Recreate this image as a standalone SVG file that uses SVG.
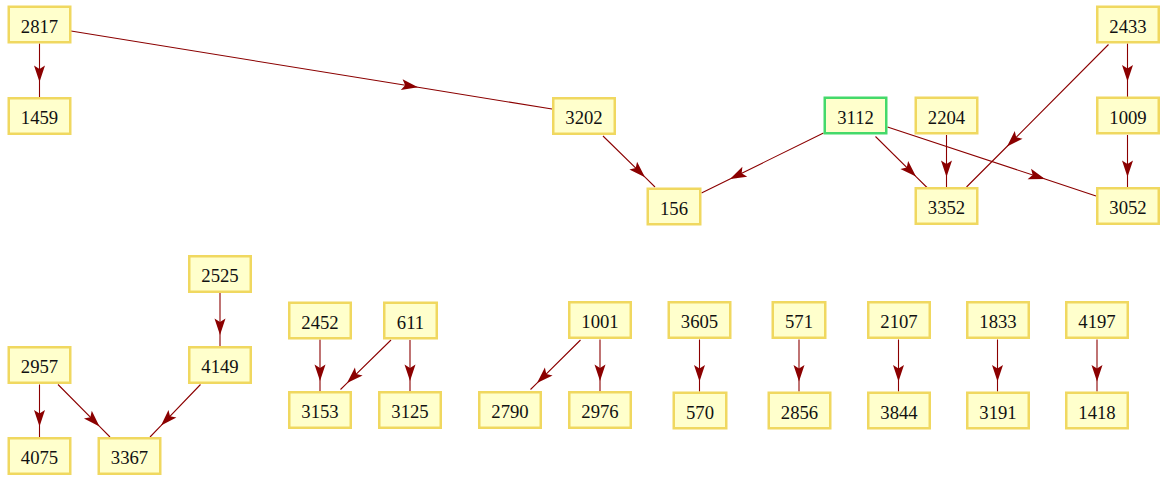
<svg xmlns="http://www.w3.org/2000/svg" width="1162" height="479" viewBox="0 0 1162 479">
  <style>
    .node rect { fill: #ffffcc; stroke: #f0d860; stroke-width: 2.5; }
    .node.sel rect { stroke: #44d96a; }
    .node text { font-family: "Liberation Serif", "Times New Roman", serif; font-size: 18.7px; fill: #111; text-anchor: middle; }
    .edges path { fill: none; stroke: #8b0000; stroke-width: 1.1; marker-mid: url(#arrow); }
  </style>
  <defs>
    <marker id="arrow" markerUnits="userSpaceOnUse" viewBox="-18 -7 19 14" markerWidth="19" markerHeight="14" refX="0" refY="0" orient="auto">
      <path d="M-16.5,-5.5 L0,0 L-16.5,5.5 L-13,0 Z" fill="#8b0000"/>
    </marker>
  </defs>

  <!-- connectors: start, arrow tip, end -->
  <g id="edges" class="edges">
    <path id="e2817-1459" d="M39.5,43.5 L39.5,82 L39.5,97"/>
    <path id="e2817-3202" d="M71,31 L418,87.3 L552,109"/>
    <path id="e3202-156" d="M603,136 L645,177.2 L655,187"/>
    <path id="e3112-156" d="M823.5,133 L730,179 L701.5,193"/>
    <path id="e3112-3352" d="M875.5,136.5 L916,176.6 L927,187.5"/>
    <path id="e3112-3052" d="M887.5,127 L1045,179.1 L1096,196"/>
    <path id="e2204-3352" d="M946.5,135 L946.5,177 L946.5,187"/>
    <path id="e2433-3352" d="M1108.5,44.5 L1007,146.5 L966.5,187"/>
    <path id="e2433-1009" d="M1127.5,43.5 L1127.5,81.5 L1127.5,97"/>
    <path id="e1009-3052" d="M1127.5,135 L1127.5,177 L1127.5,187"/>
    <path id="e2525-4149" d="M220,293 L220,335 L220,346"/>
    <path id="e2957-4075" d="M39.5,384.5 L39.5,426.5 L39.5,437"/>
    <path id="e2957-3367" d="M58,384.5 L99.5,426.4 L110,437"/>
    <path id="e4149-3367" d="M200.5,384.5 L161,425.6 L150,437"/>
    <path id="e2452-3153" d="M320,339.5 L320,381 L320,391"/>
    <path id="e611-3153" d="M391,340 L347,383.1 L340.5,389.5"/>
    <path id="e611-3125" d="M410,340 L410,381 L410,391"/>
    <path id="e1001-2790" d="M580.5,340 L537,383.1 L530.5,389.5"/>
    <path id="e1001-2976" d="M600,339.5 L600,381 L600,391.5"/>
    <path id="e3605-570" d="M699.5,339.5 L699.5,381.5 L699.5,391.5"/>
    <path id="e571-2856" d="M799,339.5 L799,381.5 L799,391.5"/>
    <path id="e2107-3844" d="M898.5,339.5 L898.5,381.5 L898.5,391.5"/>
    <path id="e1833-3191" d="M997.5,339.5 L997.5,381.5 L997.5,391.5"/>
    <path id="e4197-1418" d="M1097,339.5 L1097,381.5 L1097,391.5"/>
  </g>

  <!-- upper graph -->
  <g id="n2817" class="node"><rect x="8.75" y="6.75" width="61.5" height="35.5"/><text x="39.5" y="32.5">2817</text></g>
  <g id="n1459" class="node"><rect x="8.75" y="98.25" width="61.5" height="35.5"/><text x="39.5" y="124">1459</text></g>
  <g id="n3202" class="node"><rect x="553.25" y="98.25" width="61.5" height="35.5"/><text x="584" y="124">3202</text></g>
  <g id="n156" class="node"><rect x="647.75" y="188.75" width="52.5" height="35.5"/><text x="674" y="214.5">156</text></g>
  <g id="n3112" class="node sel"><rect x="824.75" y="97.75" width="61.5" height="35.5"/><text x="855.5" y="123.5">3112</text></g>
  <g id="n2204" class="node"><rect x="915.75" y="97.75" width="61.5" height="35.5"/><text x="946.5" y="123.5">2204</text></g>
  <g id="n3352" class="node"><rect x="915.75" y="188.25" width="61.5" height="35.5"/><text x="946.5" y="214">3352</text></g>
  <g id="n2433" class="node"><rect x="1097.25" y="6.75" width="61.5" height="35.5"/><text x="1128" y="32.5">2433</text></g>
  <g id="n1009" class="node"><rect x="1097.25" y="97.75" width="61.5" height="35.5"/><text x="1128" y="123.5">1009</text></g>
  <g id="n3052" class="node"><rect x="1097.25" y="188.25" width="61.5" height="35.5"/><text x="1128" y="214">3052</text></g>

  <!-- lower left -->
  <g id="n2525" class="node"><rect x="189.25" y="256.25" width="61.5" height="35.5"/><text x="220" y="282">2525</text></g>
  <g id="n2957" class="node"><rect x="8.75" y="347.25" width="61.5" height="35.5"/><text x="39.5" y="373">2957</text></g>
  <g id="n4149" class="node"><rect x="189.25" y="347.25" width="61.5" height="35.5"/><text x="220" y="373">4149</text></g>
  <g id="n4075" class="node"><rect x="8.75" y="438.25" width="61.5" height="35.5"/><text x="39.5" y="464">4075</text></g>
  <g id="n3367" class="node"><rect x="98.75" y="438.25" width="61.5" height="35.5"/><text x="129.5" y="464">3367</text></g>

  <!-- lower row -->
  <g id="n2452" class="node"><rect x="289.25" y="302.75" width="61.5" height="35.5"/><text x="320" y="328.5">2452</text></g>
  <g id="n611" class="node"><rect x="384.25" y="302.75" width="52.5" height="35.5"/><text x="410.5" y="328.5">611</text></g>
  <g id="n3153" class="node"><rect x="289.25" y="392.25" width="61.5" height="35.5"/><text x="320" y="418">3153</text></g>
  <g id="n3125" class="node"><rect x="379.25" y="392.25" width="61.5" height="35.5"/><text x="410" y="418">3125</text></g>
  <g id="n1001" class="node"><rect x="569.25" y="302.25" width="61.5" height="35.5"/><text x="600" y="328">1001</text></g>
  <g id="n2790" class="node"><rect x="479.25" y="392.25" width="61.5" height="35.5"/><text x="510" y="418">2790</text></g>
  <g id="n2976" class="node"><rect x="569.25" y="392.25" width="61.5" height="35.5"/><text x="600" y="418">2976</text></g>
  <g id="n3605" class="node"><rect x="668.75" y="302.25" width="61.5" height="35.5"/><text x="699.5" y="328">3605</text></g>
  <g id="n570" class="node"><rect x="673.75" y="392.75" width="52.5" height="35.5"/><text x="700" y="418.5">570</text></g>
  <g id="n571" class="node"><rect x="772.75" y="302.25" width="52.5" height="35.5"/><text x="799" y="328">571</text></g>
  <g id="n2856" class="node"><rect x="768.75" y="392.75" width="61.5" height="35.5"/><text x="799.5" y="418.5">2856</text></g>
  <g id="n2107" class="node"><rect x="868.25" y="302.25" width="61.5" height="35.5"/><text x="899" y="328">2107</text></g>
  <g id="n3844" class="node"><rect x="868.25" y="392.75" width="61.5" height="35.5"/><text x="899" y="418.5">3844</text></g>
  <g id="n1833" class="node"><rect x="967.25" y="302.25" width="61.5" height="35.5"/><text x="998" y="328">1833</text></g>
  <g id="n3191" class="node"><rect x="967.25" y="392.75" width="61.5" height="35.5"/><text x="998" y="418.5">3191</text></g>
  <g id="n4197" class="node"><rect x="1066.25" y="302.25" width="61.5" height="35.5"/><text x="1097" y="328">4197</text></g>
  <g id="n1418" class="node"><rect x="1066.25" y="392.75" width="61.5" height="35.5"/><text x="1097" y="418.5">1418</text></g>
</svg>
